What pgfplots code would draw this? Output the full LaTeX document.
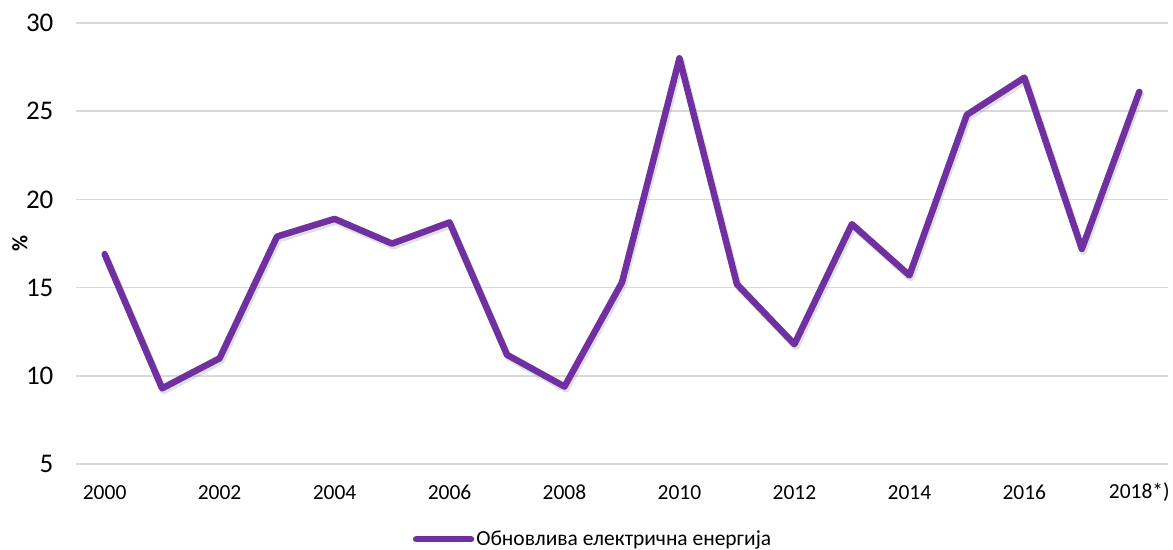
\documentclass[border=0pt]{standalone}
\usepackage{fontspec}
\setmainfont{Carlito}
\usepackage{pgfplots}
\pgfplotsset{compat=1.18}

\definecolor{linepurple}{HTML}{7030A0}
\definecolor{gridgray}{HTML}{D9D9D9}

\begin{document}
\begin{tikzpicture}
\begin{axis}[
  scale only axis,
  width=1094pt, height=442pt,
  xmin=1999.5, xmax=2018.5,
  ymin=5, ymax=30,
  axis line style={draw=none},
  ytick={5,10,...,30},
  xtick={2000,2002,...,2018},
  xticklabels={2000,2002,2004,2006,2008,2010,2012,2014,2016,2018*)},
  ymajorgrids,
  major grid style={gridgray, line width=1.5pt},
  tick style={draw=none},
  /pgf/number format/assume math mode=true,
  yticklabel style={font=\fontsize{27}{32}\selectfont, anchor=east, xshift=-19pt},
  xticklabel style={font=\fontsize{21.5}{26}\selectfont, anchor=center, yshift=-28pt},
  ylabel={\textbf{\%}},
  ylabel style={font=\fontsize{22}{26}\selectfont, at={(axis description cs:0,0.5)}, anchor=center, yshift=56pt},
  legend style={at={(axis description cs:0.4735,-0.17)}, anchor=center, draw=none,
    font=\fontsize{21.5}{26}\selectfont, inner sep=0pt},
  legend cell align=left,
  legend image code/.code={\draw[#1, line cap=round] (0pt,0pt) -- (55pt,0pt);},
  clip=false,
]
% soft drop shadow under the series
\addplot[black!35, opacity=0.35, line width=7pt, line join=round, line cap=round,
  forget plot, shift={(1.5pt,-2.5pt)}] table {
x y
2000 16.9
2001 9.3
2002 11.0
2003 17.9
2004 18.9
2005 17.5
2006 18.7
2007 11.2
2008 9.4
2009 15.3
2010 28.0
2011 15.2
2012 11.8
2013 18.6
2014 15.7
2015 24.8
2016 26.9
2017 17.2
2018 26.1
};
\addplot[linepurple, line width=6.5pt, line join=round, line cap=round] table {
x y
2000 16.9
2001 9.3
2002 11.0
2003 17.9
2004 18.9
2005 17.5
2006 18.7
2007 11.2
2008 9.4
2009 15.3
2010 28.0
2011 15.2
2012 11.8
2013 18.6
2014 15.7
2015 24.8
2016 26.9
2017 17.2
2018 26.1
};
\addlegendentry{Обновлива електрична енергија}
\end{axis}
\path (current axis.south west) ++(-76pt,-85pt) rectangle ++(1173pt,550pt);
\end{tikzpicture}
\end{document}
